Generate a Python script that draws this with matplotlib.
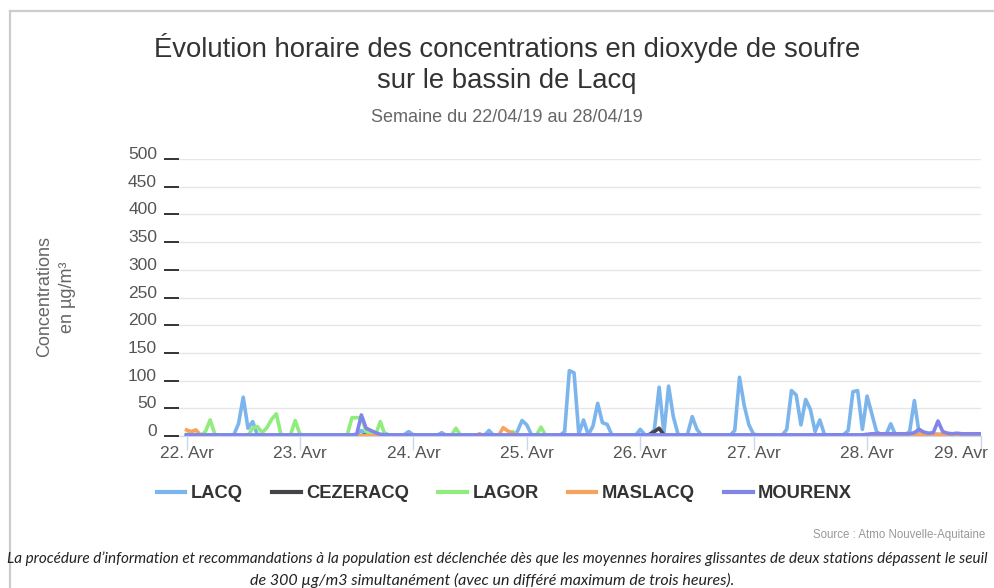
"""Evolution horaire des concentrations en SO2 sur le bassin de Lacq."""
import matplotlib

matplotlib.use("Agg")
import matplotlib.pyplot as plt
from matplotlib.lines import Line2D
from matplotlib.transforms import ScaledTranslation

import numpy as np

# --- data (hourly values, 22/04 00h -> 29/04 00h) ---
day_labels = ["22. Avr", "23. Avr", "24. Avr", "25. Avr", "26. Avr", "27. Avr", "28. Avr", "29. Avr"]

lacq = (
    [1, 1, 1, 1, 1, 1, 1, 1, 1, 1, 2, 22, 70, 14, 26, 2, 1, 1, 1, 1, 1, 1, 1, 1]
    + [1, 1, 1, 1, 1, 1, 1, 1, 1, 1, 1, 1, 3, 10, 2, 1, 1, 1, 5, 1, 1, 1, 2, 8]
    + [2, 1, 1, 1, 1, 1, 6, 1, 1, 1, 1, 1, 1, 1, 1, 1, 10, 1, 1, 1, 1, 1, 8, 28]
    + [20, 2, 1, 1, 1, 1, 1, 1, 8, 118, 114, 4, 29, 2, 18, 59, 24, 21, 2, 1, 1, 1, 1, 1]
    + [12, 2, 2, 12, 88, 5, 90, 35, 3, 1, 3, 35, 12, 1, 1, 1, 1, 1, 1, 1, 10, 106, 55, 20]
    + [3, 2, 1, 1, 1, 1, 1, 12, 82, 74, 20, 66, 48, 8, 29, 2, 2, 2, 2, 2, 10, 80, 82, 12]
    + [72, 40, 8, 2, 2, 22, 2, 2, 2, 8, 64, 5, 3, 3, 3, 3, 3, 3, 3, 3, 3, 3, 3, 3]
    + [3]
)

cezeracq = (
    [0.5] * 24
    + [0.5] * 14 + [2] + [0.5] * 9
    + [0.5] * 24
    + [0.5] * 24
    + [0.5, 0.5, 3, 8, 14, 2] + [0.5] * 18
    + [0.5] * 17 + [2, 2, 2] + [0.5] * 4
    + [0.5] * 24
    + [0.5]
)

lagor = (
    [3, 5, 2, 1, 8, 29, 3, 1, 1, 1, 1, 1, 1, 1, 14, 17, 6, 15, 30, 40, 2, 1, 2, 28]
    + [3, 2, 2, 2, 2, 2, 2, 2, 2, 2, 2, 33, 33, 33, 8, 4, 2, 26, 2, 1, 1, 1, 1, 1]
    + [1, 1, 1, 1, 1, 1, 1, 1, 1, 14, 1, 1, 1, 1, 1, 1, 1, 1, 1, 1, 1, 8, 1, 1]
    + [1, 1, 1, 16, 1, 1, 1, 1, 1, 1, 1, 1, 1, 1, 1, 1, 1, 1, 1, 1, 1, 1, 1, 1]
    + [1] * 24
    + [1] * 24
    + [1] * 24
    + [1]
)

maslacq = (
    [11, 8, 11, 1] + [0.5] * 20
    + [0.5] * 24
    + [0.5] * 14 + [4] + [0.5] * 4 + [15, 9, 5, 1, 0.5]
    + [0.5] * 24
    + [0.5] * 24
    + [0.5] * 24
    + [0.5] * 6 + [2, 2, 2, 5, 3, 3, 3, 3, 3, 3, 2, 2, 2, 2, 2, 2, 2, 2]
    + [2]
)

mourenx = (
    [2] * 24
    + [2] * 12 + [3, 38, 14, 10, 6, 3] + [2] * 6
    + [2] * 24
    + [2] * 24
    + [2] * 24
    + [2] * 24
    + [3, 4, 4, 4, 4, 4, 4, 4, 4, 4, 6, 12, 7, 5, 6, 27, 8, 5, 4, 5, 4, 4, 4, 4]
    + [4]
)

series = [
    ("LACQ", lacq, "#7cb5ec"),
    ("CEZERACQ", cezeracq, "#434348"),
    ("LAGOR", lagor, "#90ed7d"),
    ("MASLACQ", maslacq, "#f7a35c"),
    ("MOURENX", mourenx, "#8085e9"),
]

W, H = 995, 588
fig = plt.figure(figsize=(W / 100, H / 100), dpi=100)
plt.rcParams["font.family"] = ["Liberation Sans", "DejaVu Sans"]

# frame of the original page
fig.add_artist(Line2D([10 / W, 10 / W], [0, 1 - 11 / H], color="#cccccc", lw=1.6))
fig.add_artist(Line2D([10 / W, 1], [1 - 11 / H, 1 - 11 / H], color="#cccccc", lw=1.6))

ax_left, ax_right, ax_top, ax_bottom = 179, 981, 159, 436
ax = fig.add_axes([ax_left / W, 1 - ax_bottom / H, (ax_right - ax_left) / W, (ax_bottom - ax_top) / H])

hours = np.arange(len(lacq))
for name, vals, color in series:
    ax.plot(hours, vals, color=color, lw=2.6, solid_joinstyle="round", label=name)

ax.set_xlim(-1.59, 168.1)
ax.set_ylim(0, 500)

ax.set_yticks(range(0, 501, 50))
ax.grid(axis="y", color="#e6e6e6", lw=1)
ax.set_axisbelow(True)
ax.tick_params(axis="y", length=10.8, width=1.4, color="#333333", pad=5,
               labelsize=12.5, labelcolor="#555555")
for lab in ax.get_yticklabels():
    lab.set_transform(lab.get_transform() + ScaledTranslation(0, 6 / 100, fig.dpi_scale_trans))

ax.set_xticks(range(0, 169, 24))
ax.set_xticklabels(day_labels)
ax.tick_params(axis="x", length=10, width=1, color="#ccd6eb", pad=-3,
               labelsize=12.5, labelcolor="#555555")
# last label is pushed inside the chart, as in the original
last = ax.get_xticklabels()[-1]
last.set_horizontalalignment("right")
last.set_transform(last.get_transform() + ScaledTranslation(7 / 100, 0, fig.dpi_scale_trans))

for side in ["top", "right", "left"]:
    ax.spines[side].set_visible(False)
ax.spines["bottom"].set_color("#ccd6eb")

# --- texts ---
fig.text(507 / W, 1 - 48 / H, "Évolution horaire des concentrations en dioxyde de soufre",
         ha="center", va="center", fontsize=19.8, color="#333333")
fig.text(507 / W, 1 - 81 / H, "sur le bassin de Lacq",
         ha="center", va="center", fontsize=19.8, color="#333333")
fig.text(507 / W, 1 - 117 / H, "Semaine du 22/04/19 au 28/04/19",
         ha="center", va="center", fontsize=13, color="#666666")
fig.text(56 / W, 1 - 297 / H, "Concentrations\nen µg/m³", rotation=90,
         ha="center", va="center", multialignment="center", fontsize=13,
         color="#666666", linespacing=1.45)

handles = [Line2D([], [], color=c, lw=3) for _, _, c in series]
fig.legend(handles, [n for n, _, _ in series], loc="center", ncol=5,
           bbox_to_anchor=(504.5 / W, 1 - 494 / H), frameon=False,
           prop={"weight": "bold", "size": 13.2}, handlelength=1.55,
           handletextpad=0.3, columnspacing=1.6, labelcolor="#333333")

fig.text(985 / W, 1 - 535 / H, "Source : Atmo Nouvelle-Aquitaine",
         ha="right", va="center", fontsize=8.3, color="#999999")
fig.text(7 / W, 1 - 559 / H,
         "La procédure d’information et recommandations à la population est déclenchée dès que les "
         "moyennes horaires glissantes de deux stations dépassent le seuil",
         ha="left", va="center", fontsize=11.0, style="italic", color="#222222",
         family=["Lato", "DejaVu Sans"])
fig.text(492 / W, 1 - 580 / H,
         "de 300 µg/m3 simultanément (avec un différé maximum de trois heures).",
         ha="center", va="center", fontsize=11.5, style="italic", color="#222222",
         family=["Lato", "DejaVu Sans"])

fig.savefig("out.png", dpi=100)
